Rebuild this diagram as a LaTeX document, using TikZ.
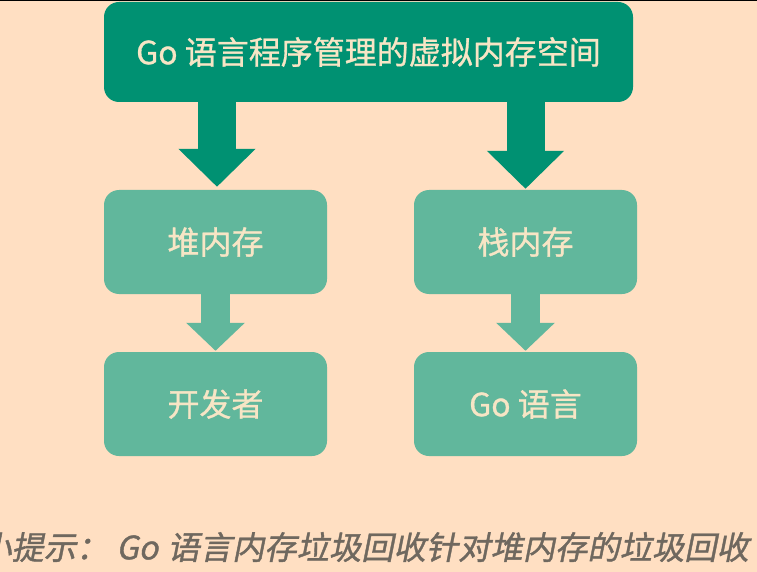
\documentclass[tikz,border=0pt]{standalone}
\usepackage{fontspec}
\setmainfont[FakeBold=0.8]{Noto Sans CJK SC}
\newfontfamily\labelfont[FakeBold=0.9]{Noto Sans CJK SC}
\newfontfamily\tipfont[FakeSlant=0.2,FakeBold=1.2]{Noto Sans CJK SC}
\usetikzlibrary{arrows.meta,calc}
\definecolor{bgpeach}{HTML}{FFDFC2}
\definecolor{darkg}{HTML}{009172}
\definecolor{lightg}{HTML}{61B79C}
\definecolor{creamtxt}{HTML}{F7E5C5}
\definecolor{tipgray}{HTML}{6F685F}
\tikzset{
  topbox/.style={fill=darkg, rounded corners=15pt, minimum width=529pt, minimum height=100pt, inner sep=0pt, text=creamtxt, font=\labelfont\fontsize{32}{38}\selectfont},
  membox/.style={fill=lightg, rounded corners=15pt, minimum width=223pt, minimum height=104pt, inner sep=0pt, text=creamtxt, font=\labelfont\fontsize{32}{38}\selectfont},
  bigarrow/.style={draw=darkg, line width=38pt, -{Triangle[length=38pt,width=75pt]}},
  smallarrow/.style={draw=lightg, line width=29pt, -{Triangle[length=28pt,width=57pt]}},
}
\begin{document}
\begin{tikzpicture}[x=1pt,y=-1pt]
\useasboundingbox (0,0) rectangle (757,572);
\fill[bgpeach] (0,0) rectangle (757,572);
\fill[black] (0,0) rectangle (757,1.5);
\node[topbox] (top) at (368.5,52) {Go 语言程序管理的虚拟内存空间};
\node[membox] (heap) at (215.5,242) {堆内存};
\node[membox] (stack) at (525.5,242) {栈内存};
\node[membox] (dev) at (215.5,404) {开发者};
\node[membox] (golang) at (525.5,404) {Go 语言};
\draw[bigarrow] ($(top.south -| heap.north)+(1.5,-1)$) -- ($(heap.north)+(1.5,-3)$);
\draw[bigarrow] ($(top.south -| stack.north)+(0,-1)$) -- ($(stack.north)+(0,-1)$);
\draw[smallarrow] ($(heap.south)+(0,-1)$) -- ($(dev.north)+(0,-1)$);
\draw[smallarrow] ($(stack.south)+(0,-1)$) -- ($(golang.north)+(0,-1)$);
\node[anchor=west, inner sep=0pt, text=tipgray, font=\tipfont\fontsize{32.3}{38}\selectfont] (tip) at (-21,547) {小提示：\hspace{8pt}Go\hspace{2pt} 语言内存垃圾回收针对堆内存的垃圾回收};
\end{tikzpicture}
\end{document}
